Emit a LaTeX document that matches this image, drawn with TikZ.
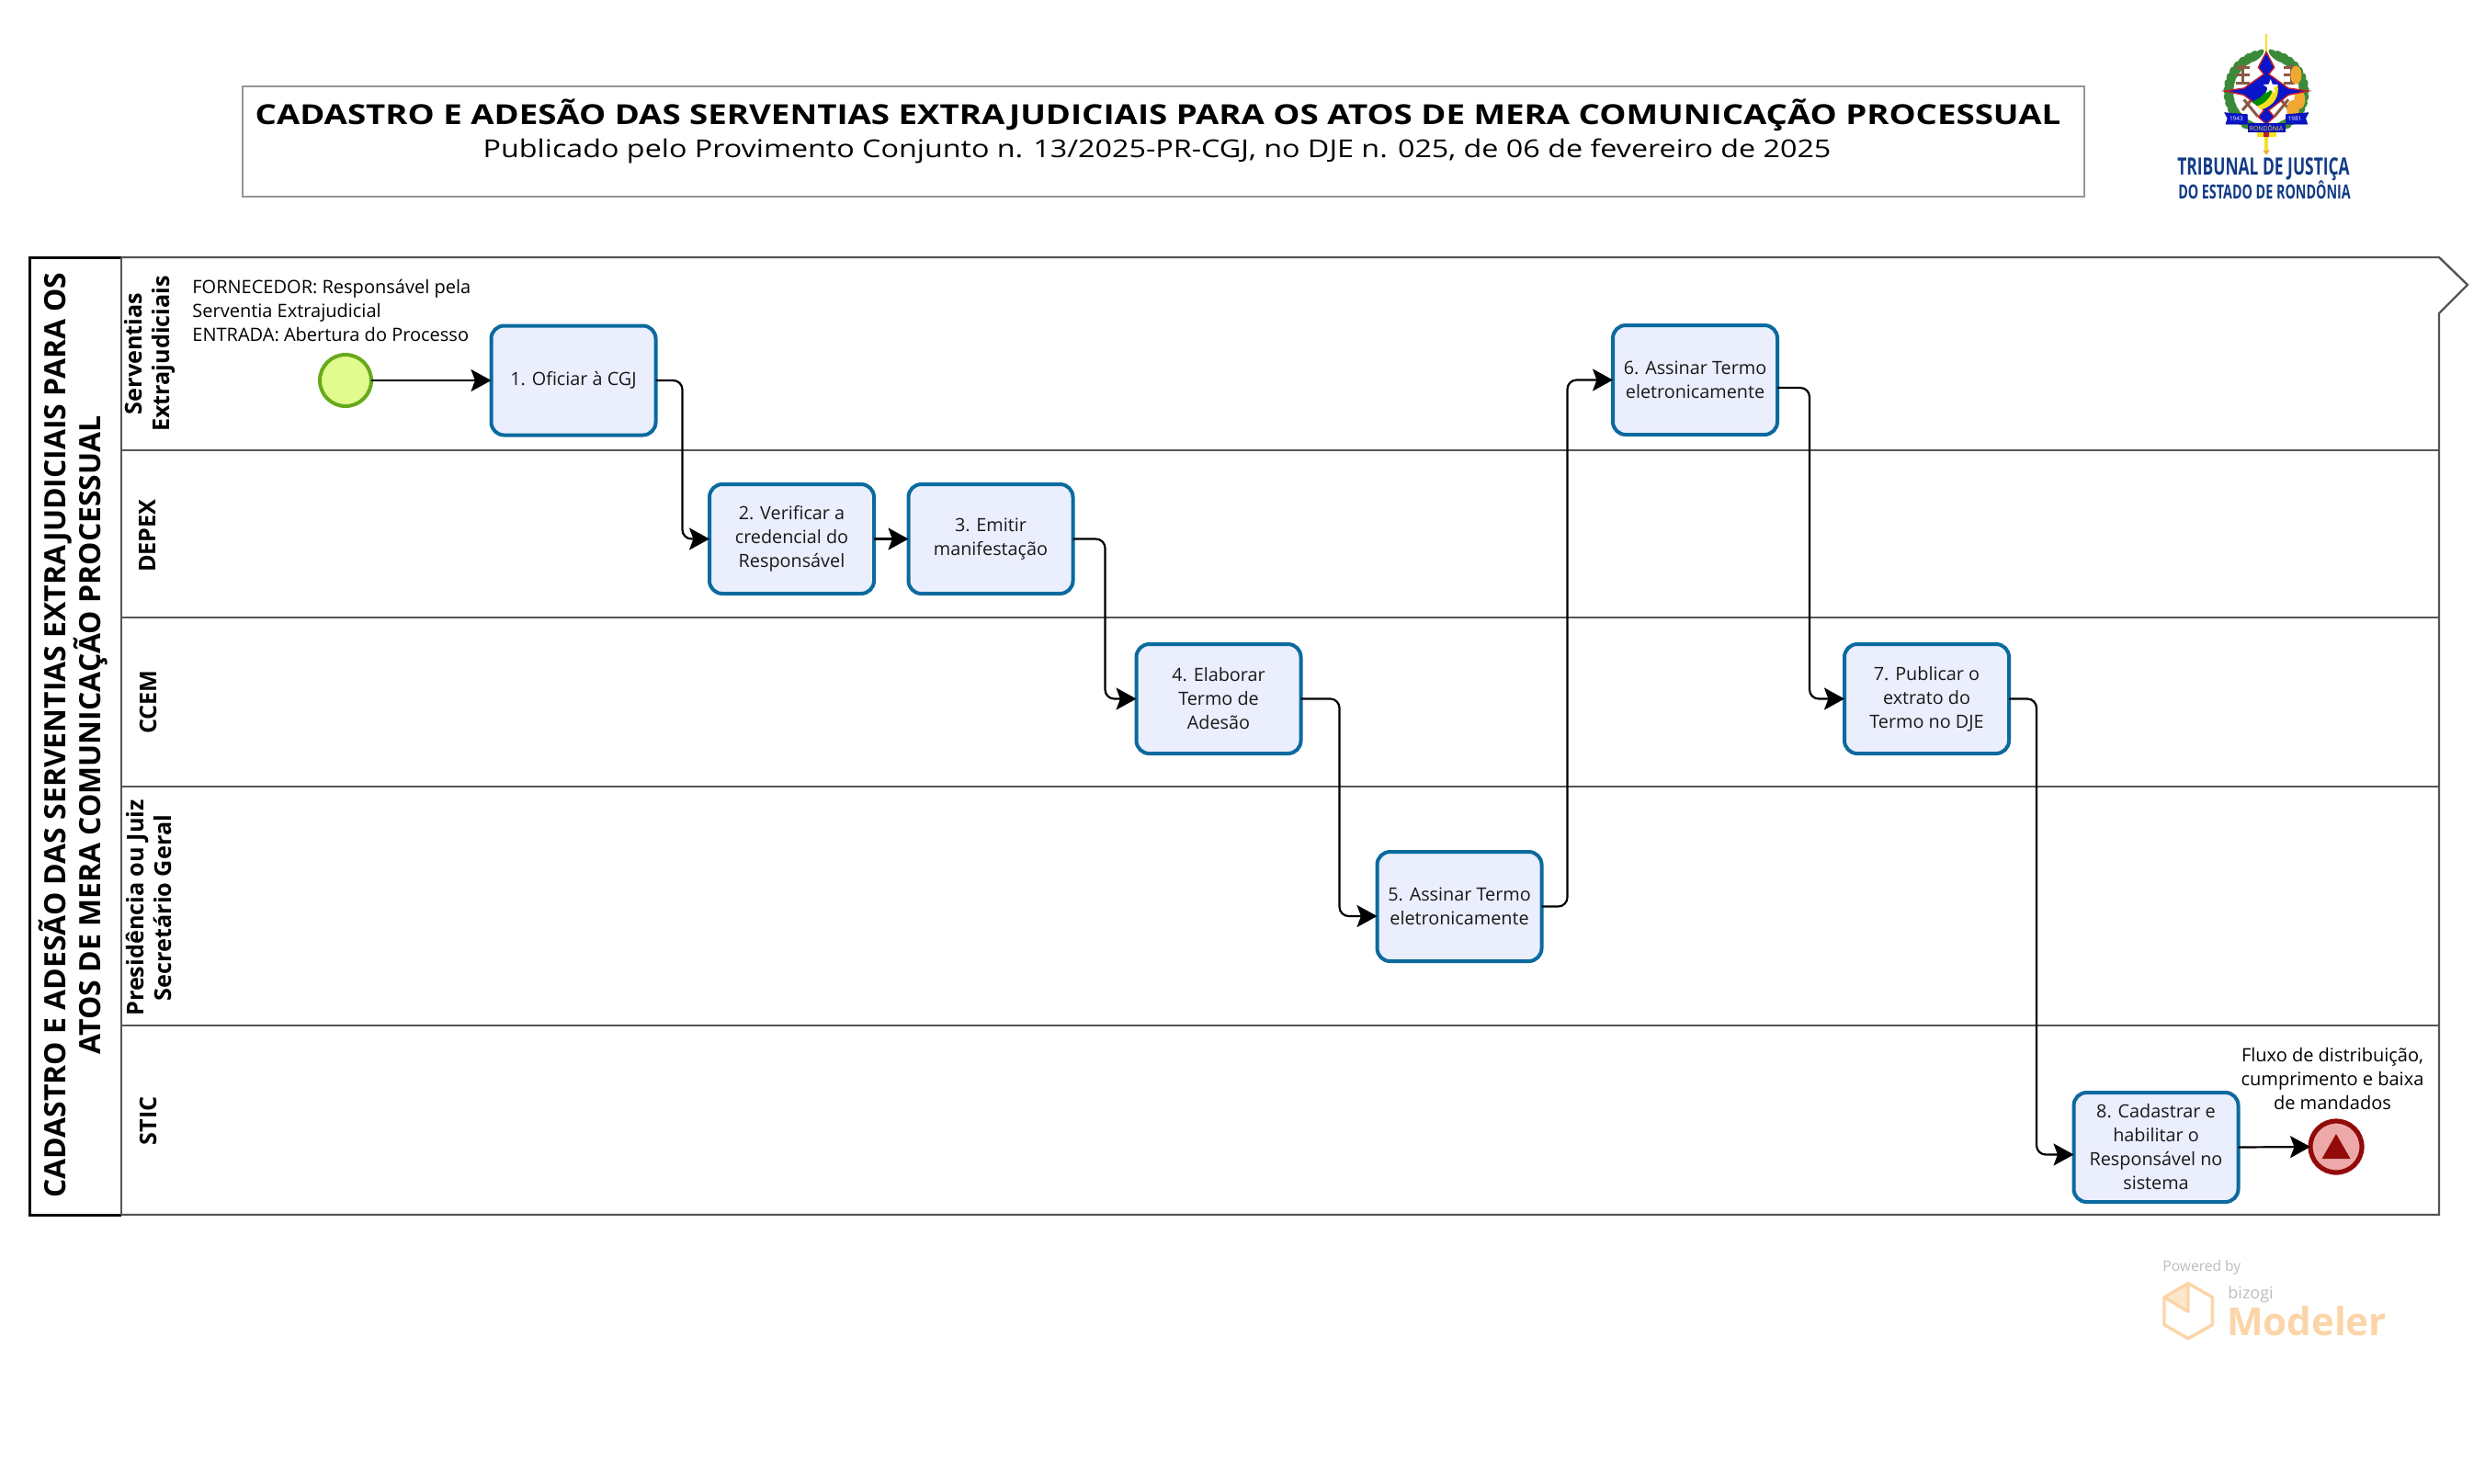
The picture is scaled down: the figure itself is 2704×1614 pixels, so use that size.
\documentclass[tikz,border=0pt]{standalone}
\usepackage{fontspec}
\setmainfont{Open Sans}
\usetikzlibrary{arrows.meta}
\definecolor{taskblue}{HTML}{0B6A9E}
\definecolor{taskfill}{HTML}{EBEEFD}
\definecolor{lanegray}{HTML}{555555}
\definecolor{framegray}{HTML}{959595}
\definecolor{startfill}{HTML}{E1FB8F}
\definecolor{startline}{HTML}{66AA1A}
\definecolor{endfill}{HTML}{EDA9A9}
\definecolor{endline}{HTML}{920A0A}
\definecolor{tjblue}{HTML}{123B86}
\definecolor{wmorange}{HTML}{FBD5A8}
\definecolor{wmlight}{HTML}{FDE6CC}
\definecolor{wmgray}{HTML}{BDBDBD}
\definecolor{leaf}{HTML}{3B8A3A}
\definecolor{rail}{HTML}{8A5A44}
\definecolor{armblue}{HTML}{0A14C8}
\definecolor{armred}{HTML}{C0202A}
\definecolor{armyellow}{HTML}{F5E020}
\definecolor{armgold}{HTML}{F0A830}
\tikzset{
  x=0.5pt,y=-0.5pt,
  taskbox/.style={draw=taskblue,fill=taskfill,line width=2pt,rounded corners=7pt,
    minimum width=89.5pt,minimum height=59.5pt,inner sep=0pt,outer sep=0pt,align=center,
    font=\fontsize{9.9}{13}\selectfont,text=black!90},
  flow/.style={draw=black,line width=1.1pt,rounded corners=5pt,
    -{Stealth[length=11pt,width=12pt,inset=2.2pt]}},
  lanelabel/.style={rotate=90,align=center,inner sep=0pt,
    font=\fontsize{12.6}{15}\selectfont\bfseries},
  note/.style={inner sep=0pt,font=\fontsize{10}{13}\selectfont,text=black},
  laneline/.style={draw=lanegray,line width=1.2pt},
}
\begin{document}
\begin{tikzpicture}
\useasboundingbox (0,0) rectangle (2704,1614);
\fill[white] (0,0) rectangle (2704,1614);

% title frame
\node[draw=framegray,line width=1.2pt,minimum width=1002pt,minimum height=60pt,inner sep=0pt,outer sep=0pt] (frame) at (1266,154) {};
\node[inner sep=0pt,xscale=1.222,font=\fontsize{15}{18}\selectfont\bfseries] (title) at (1260,125) {CADASTRO E ADESÃO DAS SERVENTIAS EXTRAJUDICIAIS PARA OS ATOS DE MERA COMUNICAÇÃO PROCESSUAL};
\node[inner sep=0pt,xscale=1.204,font=\fontsize{13.4}{18}\selectfont] (subtitle) at (1259,164) {Publicado pelo Provimento Conjunto n. 13/2025-PR-CGJ, no DJE n. 025, de 06 de fevereiro de 2025};

% pool and lanes
\path[draw=lanegray,line width=1.2pt] (132,280) -- (2654,280) -- (2685,310) -- (2654,341) -- (2654,1322) -- (132,1322);
\draw[draw=black,line width=1.5pt] (132,1322) -- (32,1322) -- (32,280) -- (132,280);
\draw[laneline] (132,280) -- (132,1322);
\draw[laneline] (132,490) -- (2654,490);
\draw[laneline] (132,672) -- (2654,672);
\draw[laneline] (132,856) -- (2654,856);
\draw[laneline] (132,1116) -- (2654,1116);

\node[rotate=90,align=center,inner sep=0pt,font=\fontsize{15.95}{18}\selectfont\bfseries] (pool) at (80,800) {CADASTRO E ADESÃO DAS SERVENTIAS EXTRAJUDICIAIS PARA OS\\ATOS DE MERA COMUNICAÇÃO PROCESSUAL};
\node[lanelabel] (l1) at (163,385) {Serventias\\Extrajudiciais};
\node[lanelabel] (l2) at (161,583) {DEPEX};
\node[lanelabel] (l3) at (161,764) {CCEM};
\node[lanelabel] (l4) at (162,988) {Presidência ou Juiz\\Secretário Geral};
\node[lanelabel] (l5) at (161,1220) {STIC};

% notes
\node[note,anchor=base west,align=left] (n1a) at (209,319) {FORNECEDOR: Responsável pela};
\node[note,anchor=base west,align=left] (n1b) at (209,345) {Serventia Extrajudicial};
\node[note,anchor=base west,align=left] (n1c) at (209,371) {ENTRADA: Abertura do Processo};
\node[note,align=center] (n2) at (2538,1174) {Fluxo de distribuição,\\cumprimento e baixa\\de mandados};

% events
\node[circle,draw=startline,fill=startfill,line width=2pt,minimum size=28pt,inner sep=0pt,outer sep=0pt] (start) at (376,414) {};
\node[circle,draw=endline,fill=endfill,line width=2.6pt,minimum size=28pt,inner sep=0pt,outer sep=0pt] (end) at (2542,1248) {};
\fill[endline] (2511,1248) ++(31,-14) -- ++(15.5,27) -- ++(-31,0) -- cycle;

% tasks
\node[taskbox] (t1) at (624,414) {1. Oficiar à CGJ};
\node[taskbox] (t2) at (861.5,586.5) {2. Verificar a\\credencial do\\Responsável};
\node[taskbox] (t3) at (1078,586.5) {3. Emitir\\manifestação};
\node[taskbox] (t4) at (1326,760.5) {4. Elaborar\\Termo de\\Adesão};
\node[taskbox] (t5) at (1588,986.5) {5. Assinar Termo\\eletronicamente};
\node[taskbox] (t6) at (1844.5,413.5) {6. Assinar Termo\\eletronicamente};
\node[taskbox] (t7) at (2096.5,760.5) {7. Publicar o\\extrato do\\Termo no DJE};
\node[taskbox] (t8) at (2346,1248.5) {8. Cadastrar e\\habilitar o\\Responsável no\\sistema};

% connectors
\draw[flow] (start.east) -- (t1.west);
\draw[flow] (t1.east) -- ++(29,0) |- (t2.west);
\draw[flow] (t2.east) -- (t3.west);
\draw[flow] (t3.east) -- ++(35,0) |- (t4.west);
\draw[flow] (t4.east) -- ++(42,0) |- ([yshift=-5.25pt]t5.west);
\draw[flow] (t5.east) -- ++(28,0) |- (t6.west);
\draw[flow] ([yshift=-4.25pt]t6.east) -- ++(35,0) |- (t7.west);
\draw[flow] (t7.east) -- ++(30,0) |- ([yshift=-4pt]t8.west);
\draw[flow] (t8.east) -- (end.west);

% emblem, in the coordinates of a 3x crop
\begin{scope}[shift={(2300,20)},x=0.16667pt,y=-0.16667pt]
  \foreach \a in {105,115,...,255}{
    \fill[leaf] ([shift={(498,240)}]\a:122) ellipse [x radius=5pt,y radius=1.9pt,rotate=-\a+115];
    \fill[leaf] ([shift={(498,240)}]180-\a:122) ellipse [x radius=5pt,y radius=1.9pt,rotate=\a-115];
  }
  \draw[rail,line width=1.5pt] (400,160)--(445,160) (400,185)--(445,185) (400,210)--(445,210) (420,150)--(420,215);
  \draw[rail,line width=1.5pt] (555,160)--(590,160) (555,185)--(590,185) (555,210)--(590,210) (580,150)--(580,215);
  \draw[rail,line width=1.5pt] (425,265)--(470,320) (450,265)--(420,300) (570,265)--(525,320) (545,265)--(575,300);
  \fill[armgold] (595,185) ellipse [x radius=3pt,y radius=5pt];
  \fill[armgold] (607,265) ellipse [x radius=3pt,y radius=5pt];
  \fill[armgold] (585,297) ellipse [x radius=3.4pt,y radius=5pt];
  \fill[armyellow] (495,50) -- (501,50) -- (501,120) -- (495,120) -- cycle;
  \draw[armred,fill=armblue,line width=0.7pt]
    (498,110) -- (472,160) -- (490,182) -- (425,228) -- (362,237) -- (425,250)
    -- (490,300) -- (472,322) -- (498,345) -- (524,322) -- (506,300)
    -- (570,250) -- (635,237) -- (570,228) -- (506,182) -- (524,160) -- cycle;
  \fill[green!55!black] (450,272) .. controls (482,262) and (498,240) .. (505,222) -- (520,240) .. controls (512,268) and (490,285) .. (470,285) -- cycle;
  \fill[armyellow] (535,215) .. controls (542,258) and (522,285) .. (482,298) .. controls (472,292) and (470,288) .. (470,285) .. controls (495,280) and (520,250) .. (520,225) -- cycle;
  \fill[white] (512,198) -- (518,215) -- (536,216) -- (522,227) -- (527,244) -- (512,234) -- (497,244) -- (502,227) -- (488,216) -- (506,215) -- cycle;
  \draw[armblue!80!black,fill=armblue,line width=0.3pt] (362,308) -- (436,314) -- (436,345) -- (366,345) -- (372,326) -- cycle;
  \draw[armblue!80!black,fill=armblue,line width=0.3pt] (635,308) -- (562,314) -- (562,345) -- (632,345) -- (626,326) -- cycle;
  \fill[armyellow] (468,368) rectangle (532,388);
  \fill[armred] (490,372) rectangle (508,386);
  \fill[armyellow] (492,388) rectangle (504,430);
  \fill[armgold] (487,430) -- (509,430) -- (498,446) -- cycle;
  \draw[armblue!80!black,fill=armblue,line width=0.3pt] (438,343) rectangle (560,370);
  \node[inner sep=0pt,text=white,font=\fontsize{3.2}{4}\selectfont] (y1) at (400,328) {1943};
  \node[inner sep=0pt,text=white,font=\fontsize{3.2}{4}\selectfont] (y2) at (591,328) {1981};
  \node[inner sep=0pt,text=armyellow,font=\fontsize{3.4}{4}\selectfont] (y3) at (498,357) {RONDÔNIA};
\end{scope}
\node[inner sep=0pt,text=tjblue,xscale=0.67,font=\fontsize{13}{14}\selectfont\bfseries] (tj1) at (2463,184) {TRIBUNAL DE JUSTIÇA};
\node[inner sep=0pt,text=tjblue,xscale=0.675,font=\fontsize{10.6}{12}\selectfont\bfseries] (tj2) at (2464,207) {DO ESTADO DE RONDÔNIA};

% watermark
\node[inner sep=0pt,anchor=base west,text=wmgray,font=\fontsize{7.8}{8}\selectfont] (wm1) at (2353,1383) {Powered by};
\begin{scope}[shift={(2300,1350)},x=0.16667pt,y=-0.16667pt]
  \fill[wmlight] (165,185) -- (243,140) -- (243,232) -- cycle;
  \draw[wmorange,line width=1.7pt,line join=round] (243,140) -- (322,185) -- (322,275) -- (243,320) -- (165,275) -- (165,185) -- cycle;
  \draw[wmorange,line width=1.7pt,line join=round] (165,185) -- (243,232) -- (243,140);
  \node[inner sep=0pt,anchor=base west,text=wmgray,font=\fontsize{9}{10}\selectfont] (wm2) at (372,190) {bizogi};
  \node[inner sep=0pt,anchor=base west,text=wmorange,font=\fontsize{21}{24}\selectfont\bfseries] (wm3) at (368,310) {Modeler};
\end{scope}
\end{tikzpicture}
\end{document}
